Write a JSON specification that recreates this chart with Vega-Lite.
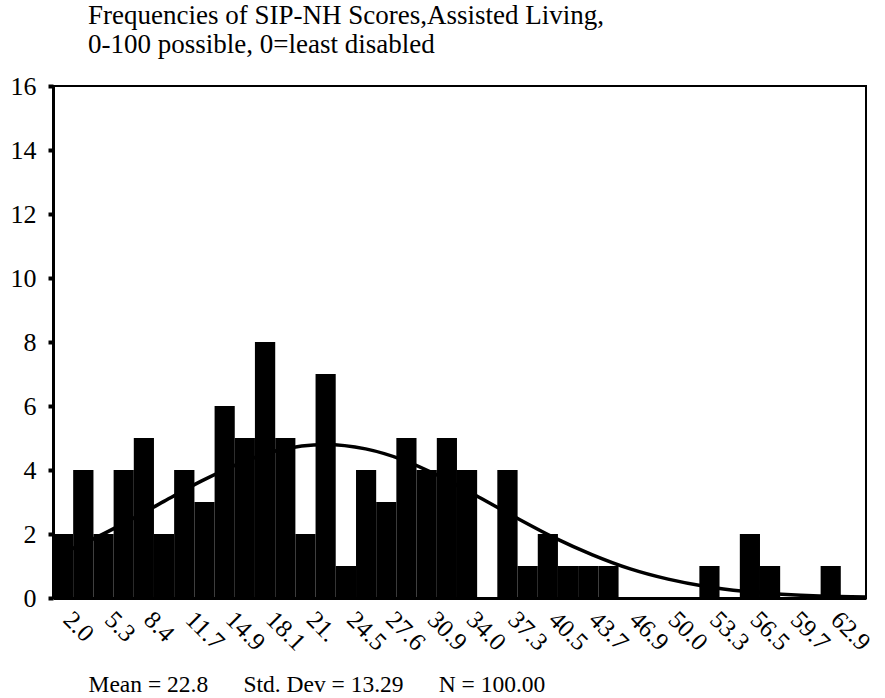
{
  "$schema": "https://vega.github.io/schema/vega-lite/v6.json",
  "width": 813,
  "height": 512,
  "autosize": {"type": "none"},
  "padding": {"left": 53, "top": 86, "right": 19, "bottom": 100},
  "background": "white",
  "config": {
    "view": {"stroke": "black", "strokeWidth": 2},
    "font": "Liberation Serif"
  },
  "title": {
    "text": ["Frequencies of SIP-NH Scores,Assisted Living,", "0-100 possible, 0=least disabled"],
    "anchor": "start",
    "frame": "group",
    "dx": 35,
    "offset": 14,
    "fontSize": 27,
    "fontWeight": "normal",
    "font": "Liberation Serif",
    "lineHeight": 29,
    "color": "black"
  },
  "datasets": {
    "bars": [
      {"lo": 1.20, "hi": 2.80, "count": 2},
      {"lo": 2.80, "hi": 4.41, "count": 4},
      {"lo": 4.41, "hi": 6.01, "count": 2},
      {"lo": 6.01, "hi": 7.61, "count": 4},
      {"lo": 7.61, "hi": 9.21, "count": 5},
      {"lo": 9.21, "hi": 10.81, "count": 2},
      {"lo": 10.81, "hi": 12.42, "count": 4},
      {"lo": 12.42, "hi": 14.02, "count": 3},
      {"lo": 14.02, "hi": 15.62, "count": 6},
      {"lo": 15.62, "hi": 17.22, "count": 5},
      {"lo": 17.22, "hi": 18.83, "count": 8},
      {"lo": 18.83, "hi": 20.43, "count": 5},
      {"lo": 20.43, "hi": 22.03, "count": 2},
      {"lo": 22.03, "hi": 23.63, "count": 7},
      {"lo": 23.63, "hi": 25.24, "count": 1},
      {"lo": 25.24, "hi": 26.84, "count": 4},
      {"lo": 26.84, "hi": 28.44, "count": 3},
      {"lo": 28.44, "hi": 30.04, "count": 5},
      {"lo": 30.04, "hi": 31.65, "count": 4},
      {"lo": 31.65, "hi": 33.25, "count": 5},
      {"lo": 33.25, "hi": 34.85, "count": 4},
      {"lo": 36.45, "hi": 38.06, "count": 4},
      {"lo": 38.06, "hi": 39.66, "count": 1},
      {"lo": 39.66, "hi": 41.26, "count": 2},
      {"lo": 41.26, "hi": 42.86, "count": 1},
      {"lo": 42.86, "hi": 44.47, "count": 1},
      {"lo": 44.47, "hi": 46.07, "count": 1},
      {"lo": 52.48, "hi": 54.08, "count": 1},
      {"lo": 55.69, "hi": 57.29, "count": 2},
      {"lo": 57.29, "hi": 58.89, "count": 1},
      {"lo": 62.10, "hi": 63.70, "count": 1}
    ],
    "curve": [
      {"v": 1.2, "y": 1.28},
      {"v": 4, "y": 1.77},
      {"v": 7, "y": 2.37},
      {"v": 10, "y": 3.02},
      {"v": 13, "y": 3.66},
      {"v": 16, "y": 4.21},
      {"v": 19, "y": 4.61},
      {"v": 22.8, "y": 4.8},
      {"v": 26, "y": 4.66},
      {"v": 29, "y": 4.31},
      {"v": 32, "y": 3.78},
      {"v": 35, "y": 3.15},
      {"v": 38, "y": 2.5},
      {"v": 41, "y": 1.88},
      {"v": 44, "y": 1.35},
      {"v": 47, "y": 0.91},
      {"v": 50, "y": 0.59},
      {"v": 53, "y": 0.36},
      {"v": 56, "y": 0.21},
      {"v": 59, "y": 0.12},
      {"v": 62, "y": 0.06},
      {"v": 65.7, "y": 0.03}
    ]
  },
  "layer": [
    {
      "data": {"name": "bars"},
      "mark": {"type": "rect", "color": "black", "stroke": null},
      "encoding": {
        "x": {
          "field": "lo",
          "type": "quantitative",
          "scale": {"domain": [1.2, 65.7], "nice": false, "zero": false},
          "axis": {
            "values": [2.0, 5.3, 8.4, 11.7, 14.9, 18.1, 21.3, 24.5, 27.6, 30.9, 34.0, 37.3, 40.5, 43.7, 46.9, 50.0, 53.3, 56.5, 59.7, 62.9],
            "labelExpr": "datum.value == 21.3 ? '21.' : format(datum.value, '.1f')",
            "labelAngle": 45,
            "labelAlign": "left",
            "labelBaseline": "middle",
            "labelFontSize": 25,
            "labelFont": "Liberation Serif",
            "labelColor": "black",
            "labelPadding": 17,
            "labelOffset": 4,
            "labelOverlap": false,
            "labelFlush": false,
            "ticks": false,
            "grid": false,
            "domainColor": "black",
            "domainWidth": 3,
            "title": "Mean = 22.8\u00a0\u00a0\u00a0\u00a0\u00a0\u00a0Std. Dev = 13.29\u00a0\u00a0\u00a0\u00a0\u00a0\u00a0N = 100.00",
            "titleFont": "Liberation Serif",
            "titleFontSize": 23.5,
            "titleFontWeight": "normal",
            "titleColor": "black",
            "titleAnchor": "start",
            "titleAlign": "left",
            "titleBaseline": "alphabetic",
            "titleX": 35,
            "titleY": 93
          }
        },
        "x2": {"field": "hi"},
        "y": {
          "field": "count",
          "type": "quantitative",
          "scale": {"domain": [0, 16], "nice": false},
          "axis": {
            "values": [0, 2, 4, 6, 8, 10, 12, 14, 16],
            "labelFontSize": 26,
            "labelFont": "Liberation Serif",
            "labelColor": "black",
            "labelPadding": 12,
            "tickSize": 5,
            "tickWidth": 4,
            "tickColor": "black",
            "grid": false,
            "domainColor": "black",
            "domainWidth": 3,
            "title": null
          }
        },
        "y2": {"datum": 0}
      }
    },
    {
      "data": {"name": "curve"},
      "mark": {"type": "line", "color": "black", "strokeWidth": 3.5, "interpolate": "monotone"},
      "encoding": {
        "x": {"field": "v", "type": "quantitative"},
        "y": {"field": "y", "type": "quantitative"}
      }
    }
  ]
}
